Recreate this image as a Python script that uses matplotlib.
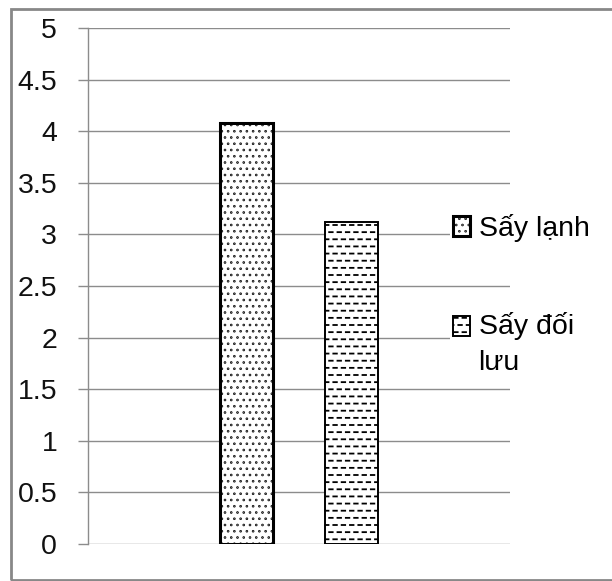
import numpy as np
import matplotlib
matplotlib.use("Agg")
import matplotlib.pyplot as plt
import matplotlib.hatch as mhatch
from matplotlib.path import Path
from matplotlib.patches import Rectangle
from matplotlib.legend_handler import HandlerPatch

series = ["Sấy lạnh", "Sấy đối\nlưu"]
values = [4.08, 3.12]
hatches = ["..", "--"]
edge_widths = [2.2, 1.4]
yticks = [0, 0.5, 1, 1.5, 2, 2.5, 3, 3.5, 4, 4.5, 5]


# Excel-like hatch fills: fine dots and staggered short dashes
class DashHatch(mhatch.HatchPatternBase):
    def __init__(self, hatch, density):
        self.num_rows = 14 if "-" in hatch else 0
        self.num_dashes = 12
        self.num_vertices = self.num_rows * self.num_dashes * 2

    def set_vertices_and_codes(self, vertices, codes):
        pitch = 1.0 / self.num_dashes
        k = 0
        for r in range(self.num_rows):
            y = (r + 0.5) / self.num_rows
            shift = pitch / 2 if r % 2 else 0.0
            for c in range(self.num_dashes):
                x0 = c * pitch + shift
                vertices[k] = (x0, y)
                vertices[k + 1] = (x0 + 0.035, y)
                codes[k] = Path.MOVETO
                codes[k + 1] = Path.LINETO
                k += 2


class DotHatch(mhatch.SmallFilledCircles):
    size = 0.06

    def __init__(self, hatch, density):
        self.num_rows = 16 if "." in hatch else 0
        mhatch.Circles.__init__(self, hatch, density)


mhatch._hatch_types = [DashHatch if t is mhatch.HorizontalHatch else
                       DotHatch if t is mhatch.SmallFilledCircles else t
                       for t in mhatch._hatch_types]

plt.rcParams["font.family"] = ["Liberation Sans", "DejaVu Sans"]
plt.rcParams["hatch.linewidth"] = 1.3
grid_color = "#8c8c8c"

fig = plt.figure(figsize=(6.12, 5.81), dpi=100)
ax = fig.add_axes([88 / 612, 37 / 581, 422 / 612, 516 / 581])

w = 0.125
bars = []
for i, (name, v) in enumerate(zip(series, values)):
    b = ax.bar((2 * i - 1) * w, v, width=w, color="white", edgecolor="black",
               hatch=hatches[i], linewidth=edge_widths[i], label=name)
    bars.append(b[0])

ax.set_xlim(-0.5, 0.5)
ax.set_ylim(0, 5)
ax.set_yticks(yticks)
ax.set_yticklabels([f"{t:g}" for t in yticks])
ax.set_xticks([])
ax.set_axisbelow(True)
ax.yaxis.grid(True, color=grid_color, linewidth=1.0)
for s in ["top", "right", "bottom"]:
    ax.spines[s].set_visible(False)
ax.spines["left"].set_color(grid_color)
ax.spines["left"].set_linewidth(1.0)
ax.tick_params(axis="y", length=7.2, width=1.0, color=grid_color, pad=15,
               labelsize=20.5, labelcolor="#111111")


# keep the legend key level with the first line of a wrapped label
def raised_box(legend, orig_handle, xdescent, ydescent, width, height, fontsize):
    return Rectangle((-xdescent, -ydescent + 13.3), width, height)


legend_kw = dict(loc="upper left", frameon=True, framealpha=1,
                 facecolor="white", edgecolor="none", fancybox=False,
                 borderpad=0.1, borderaxespad=0, handlelength=0.6,
                 handleheight=0.7, handletextpad=0.3, fontsize=20.5)
leg1 = ax.legend([bars[0]], [series[0]], bbox_to_anchor=(0.858, 0.645),
                 **legend_kw)
ax.add_artist(leg1)
leg2 = ax.legend([bars[1]], [series[1]], bbox_to_anchor=(0.858, 0.455),
                 handler_map={bars[1]: HandlerPatch(patch_func=raised_box)},
                 **legend_kw)
for t in leg2.get_texts():
    t.set_linespacing(1.5)

# outer chart border
fig.add_artist(Rectangle((11 / 612, 1 / 581), 1.0, 571 / 581,
                         transform=fig.transFigure, fill=False,
                         edgecolor="#888888", linewidth=2))

fig.savefig("out.png", dpi=100)
